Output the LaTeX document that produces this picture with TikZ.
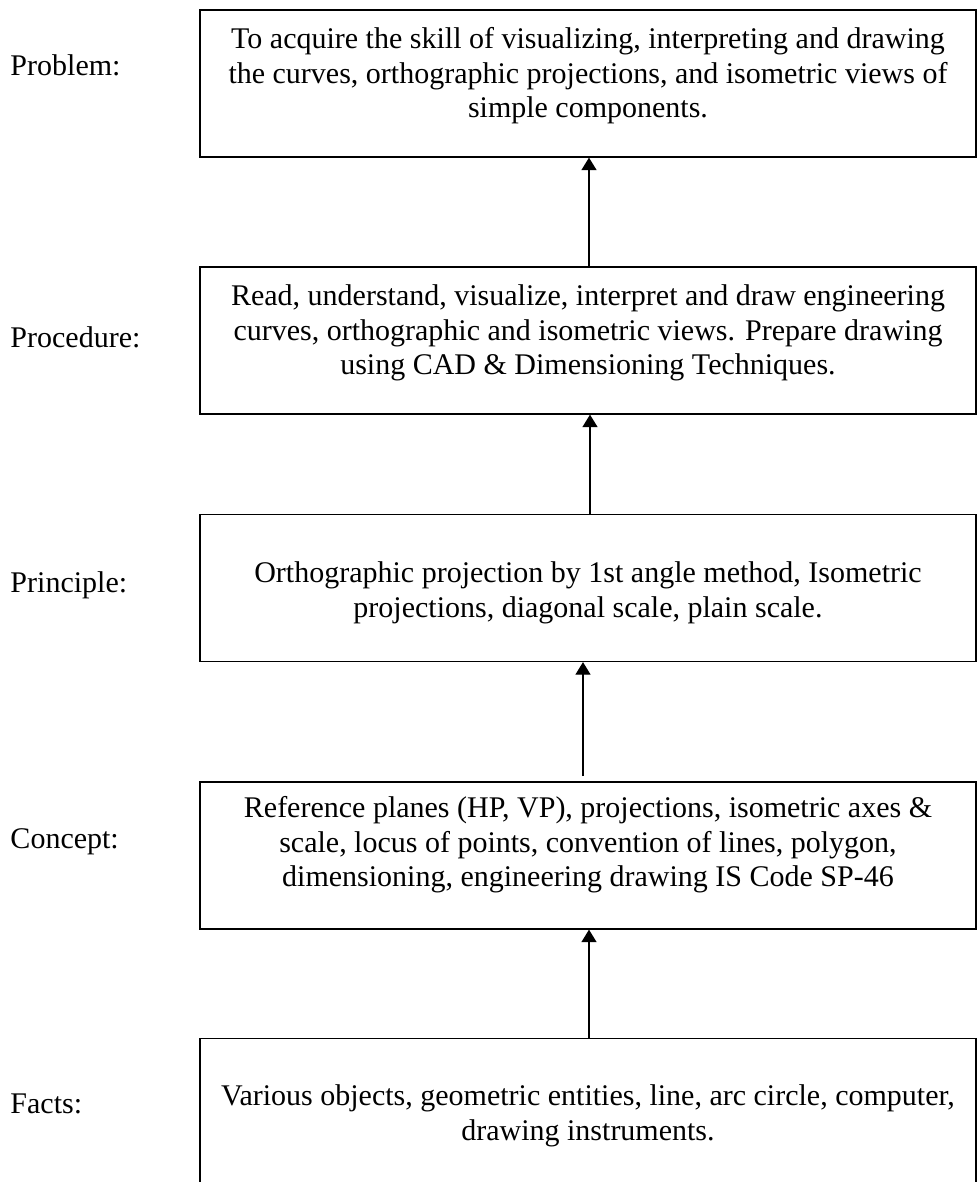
\documentclass[tikz,border=0pt]{standalone}
\usepackage{fontspec}
\setmainfont{Liberation Serif}
\usetikzlibrary{arrows.meta}

\tikzset{
  box/.style={draw, line width=0.5pt, minimum width=310.4pt, minimum height=58.8pt, inner sep=0pt},
  txt/.style={align=center, inner sep=0pt, font=\fontsize{12}{13.8}\selectfont},
  lab/.style={anchor=base west, inner sep=0pt, font=\fontsize{12}{13.8}\selectfont},
  arr/.style={line width=0.5pt, -{Triangle[width=6pt,length=5pt]}}
}

\begin{document}
\begin{tikzpicture}[x=0.4pt,y=-0.4pt]
\useasboundingbox (0,0) rectangle (977,1182);

% the five boxes
\node(prob)[box] at (588,83.5) {};
\node(proc)[box] at (588,340.5) {};
\node(prin)[box] at (588,588) {};
\node(conc)[box] at (588,855.5) {};
\node(fact)[box, minimum height=80pt, anchor=north] at (588,1038) {};

% texts in the boxes
\node(probt)[txt] at (588,76) {To acquire the skill of visualizing, interpreting and drawing\\ the curves, orthographic projections, and isometric views of\\ simple components.};
\node(proct)[txt] at (588,333) {Read, understand, visualize, interpret and draw engineering\\ curves, orthographic and isometric views. Prepare drawing\\ using CAD \& Dimensioning Techniques.};
\node(print)[txt] at (588,593) {Orthographic projection by 1st angle method, Isometric\\ projections, diagonal scale, plain scale.};
\node(conct)[txt] at (588,845) {Reference planes (HP, VP), projections, isometric axes \&\\ scale, locus of points, convention of lines, polygon,\\ dimensioning, engineering drawing IS Code SP-46};
\node(factt)[txt] at (588,1116) {Various objects, geometric entities, line, arc circle, computer,\\ drawing instruments.};

% labels on the left
\node(lprob)[lab] at (10,75) {Problem:};
\node(lproc)[lab] at (10,347) {Procedure:};
\node(lprin)[lab] at (10,592) {Principle:};
\node(lconc)[lab] at (10,848) {Concept:};
\node(lfact)[lab] at (10,1113) {Facts:};

% arrows
\coordinate(c3) at (583,776);
\draw[arr] (proc.north -| 589,0) -- (prob.south -| 589,0);
\draw[arr] (prin.north -| 590,0) -- (proc.south -| 590,0);
\draw[arr] (c3) -- (c3 |- prin.south);
\draw[arr] (fact.north -| 589,0) -- (conc.south -| 589,0);

\end{tikzpicture}
\end{document}
